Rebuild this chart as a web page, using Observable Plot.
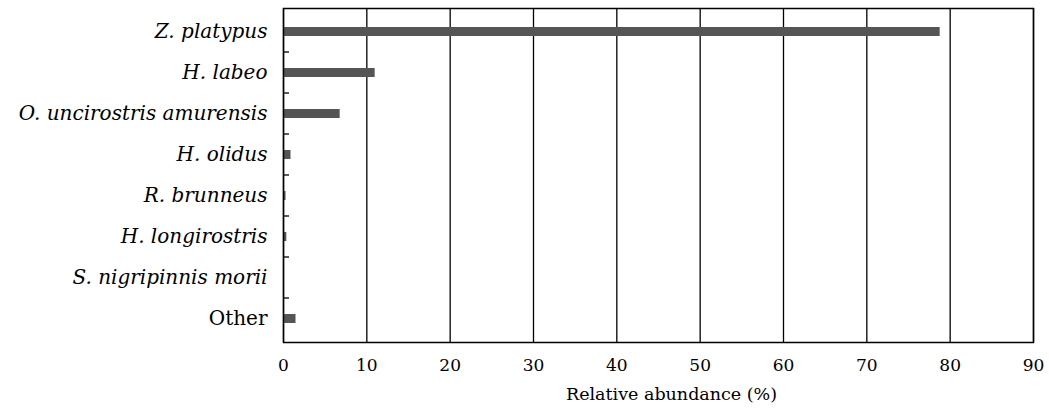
<!DOCTYPE html>
<html><head><meta charset="utf-8">
<script src="https://cdn.jsdelivr.net/npm/d3@7"></script>
<script src="https://cdn.jsdelivr.net/npm/@observablehq/plot@0.6"></script>
<style>body{margin:0;background:#fff}</style>
</head><body><div id="chart"></div>
<script>
const species = ["Z. platypus","H. labeo","O. uncirostris amurensis","H. olidus","R. brunneus","H. longirostris","S. nigripinnis morii","Other"];
const abundance = [78.8, 11.0, 6.8, 0.9, 0.3, 0.4, 0, 1.5];
const xTicks = [0,10,20,30,40,50,60,70,80,90];
const data = species.map((s,i)=>({species:s, value:abundance[i]}));
const italic = species.filter(s=>s!=="Other");

function boundaryTicks(index, scales, values, dims) {
  const y = scales.y, x0 = dims.marginLeft;
  const g = d3.create("svg:g");
  const step = y.step ? y.step() : y.bandwidth();
  species.slice(0,-1).forEach(s=>{
    const yy = y(s) + y.bandwidth()/2 + step/2;
    g.append("line").attr("x1",x0).attr("x2",x0+6).attr("y1",yy).attr("y2",yy).attr("stroke","#000").attr("stroke-width",1.3);
  });
  return g.node();
}

const chart = Plot.plot({
  width: 1049, height: 412,
  marginLeft: 283, marginRight: 16, marginTop: 8, marginBottom: 70,
  style: {fontFamily: "DejaVu Serif", fontSize: "16px", color: "#000", background: "#fff"},
  x: {domain: [0,90], ticks: xTicks, label: null},
  y: {domain: species, padding: 0, label: null},
  marks: [
    Plot.gridX(xTicks, {stroke: "#000", strokeOpacity: 1, strokeWidth: 1.3}),
    Plot.barX(data, {x: "value", y: "species", fill: "#555", insetTop: 16, insetBottom: 16}),
    Plot.frame({stroke: "#000", strokeWidth: 1.5}),
    Plot.axisX(xTicks, {tickSize: 0, tickPadding: 16, fontSize: 17, label: null}),
    Plot.axisY(italic, {tickSize: 0, tickPadding: 16, fontStyle: "italic", fontSize: 20, label: null}),
    Plot.axisY(["Other"], {tickSize: 0, tickPadding: 16, fontSize: 20, label: null}),
    boundaryTicks,
    Plot.text(["Relative abundance (%)"], {frameAnchor: "bottom", dy: 57, dx: 13, fontSize: 17.5, text: d=>d})
  ]
});
document.getElementById("chart").append(chart);
</script>
</body></html>
